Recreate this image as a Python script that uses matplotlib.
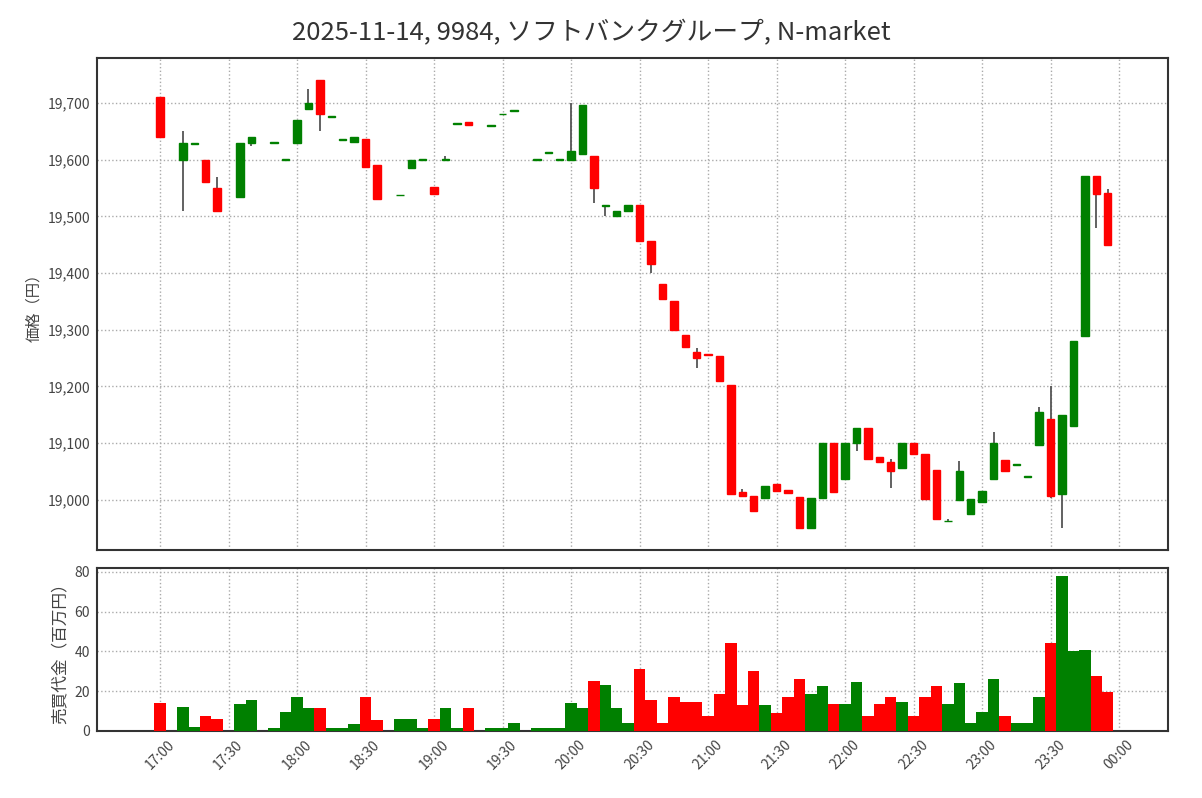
import pandas as pd
import numpy as np
import matplotlib
matplotlib.use("Agg")
import matplotlib.pyplot as plt
import matplotlib.dates as mdates
from matplotlib.ticker import FuncFormatter

plt.rcParams['font.family'] = ['Noto Sans CJK JP', 'DejaVu Sans']

# 5-minute bars, 2025-11-14 night session
times = ["17:00", "17:10", "17:15", "17:20", "17:25", "17:35", "17:40", "17:50", "17:55",
         "18:00", "18:05", "18:10", "18:15", "18:20", "18:25", "18:30", "18:35",
         "18:45", "18:50", "18:55", "19:00", "19:05", "19:10", "19:15",
         "19:25", "19:30", "19:35", "19:45", "19:50", "19:55",
         "20:00", "20:05", "20:10", "20:15", "20:20", "20:25", "20:30", "20:35", "20:40", "20:45", "20:50", "20:55",
         "21:00", "21:05", "21:10", "21:15", "21:20", "21:25", "21:30", "21:35", "21:40", "21:45", "21:50", "21:55",
         "22:00", "22:05", "22:10", "22:15", "22:20", "22:25", "22:30", "22:35", "22:40", "22:45", "22:50", "22:55",
         "23:00", "23:05", "23:10", "23:15", "23:20", "23:25", "23:30", "23:35", "23:40", "23:45", "23:50", "23:55"]

opens = [19710, 19600, 19628, 19600, 19550, 19535, 19630, 19630, 19600,
         19630, 19690, 19740, 19675, 19635, 19632, 19637, 19590,
         19537, 19585, 19600, 19552, 19600, 19663, 19666,
         19660, 19680, 19686, 19600, 19612, 19600,
         19600, 19610, 19606, 19519, 19500, 19510, 19520, 19456, 19380, 19350, 19290, 19260,
         19258, 19253, 19203, 19013, 19007, 19003, 19028, 19018, 19005, 18951, 19004, 19100,
         19037, 19101, 19126, 19076, 19066, 19057, 19100, 19081, 19053, 18962, 19000, 18975,
         18997, 19037, 19071, 19062, 19041, 19096, 19142, 19011, 19130, 19289, 19571, 19541]

closes = [19640, 19630, 19630, 19560, 19510, 19630, 19640, 19631, 19601,
          19670, 19700, 19680, 19676, 19636, 19640, 19587, 19530,
          19538, 19600, 19601, 19540, 19601, 19664, 19662,
          19661, 19681, 19688, 19601, 19613, 19601,
          19615, 19697, 19551, 19520, 19510, 19520, 19456, 19416, 19355, 19300, 19270, 19250,
          19255, 19210, 19011, 19007, 18981, 19024, 19016, 19012, 18951, 19003, 19100, 19014,
          19100, 19126, 19072, 19066, 19051, 19101, 19081, 19001, 18966, 18963, 19051, 19001,
          19015, 19101, 19051, 19063, 19042, 19155, 19006, 19150, 19281, 19571, 19540, 19449]

highs = [19710, 19650, 19630, 19600, 19570, 19630, 19640, 19631, 19601,
         19670, 19725, 19740, 19676, 19636, 19640, 19637, 19590,
         19538, 19600, 19601, 19552, 19607, 19664, 19666,
         19661, 19681, 19688, 19601, 19613, 19601,
         19700, 19697, 19606, 19520, 19510, 19520, 19520, 19456, 19380, 19350, 19290, 19268,
         19258, 19253, 19203, 19020, 19007, 19024, 19028, 19018, 19005, 19003, 19100, 19100,
         19100, 19126, 19126, 19076, 19072, 19101, 19100, 19081, 19053, 18967, 19069, 19001,
         19015, 19120, 19071, 19063, 19042, 19163, 19200, 19150, 19281, 19571, 19571, 19549]

lows = [19640, 19510, 19628, 19560, 19510, 19535, 19625, 19630, 19600,
        19630, 19690, 19650, 19675, 19635, 19632, 19587, 19530,
        19537, 19585, 19600, 19540, 19600, 19663, 19662,
        19660, 19680, 19686, 19600, 19612, 19600,
        19600, 19610, 19524, 19500, 19500, 19510, 19456, 19400, 19355, 19297, 19270, 19232,
        19255, 19210, 19011, 19007, 18981, 19003, 19016, 19012, 18951, 18951, 19004, 19014,
        19037, 19086, 19072, 19066, 19021, 19057, 19081, 19001, 18966, 18962, 19000, 18975,
        18997, 19037, 19051, 19062, 19041, 19096, 19003, 18951, 19130, 19289, 19480, 19449]

# trading value, million yen
values = [14, 12, 2, 7.5, 6, 13.6, 15.6, 1.7, 9.6,
          17.3, 11.6, 11.6, 1.7, 1.7, 3.7, 17.3, 5.7,
          5.8, 5.8, 1.7, 5.8, 11.7, 1.7, 11.7,
          1.7, 1.7, 3.8, 1.7, 1.7, 1.7,
          13.8, 11.7, 25.2, 23.3, 11.7, 3.8, 31.3, 15.5, 3.8, 17.2, 14.7, 14.7,
          7.7, 18.8, 44.2, 13, 30.2, 13, 9.2, 17.2, 26.3, 18.8, 22.8, 13.3,
          13.3, 24.7, 7.7, 13.3, 17.2, 14.7, 7.7, 17.2, 22.8, 13.3, 24.2, 3.8,
          9.3, 26.3, 7.7, 3.8, 3.8, 17.2, 44.2, 78, 40, 40.5, 27.5, 19.7]

df = pd.DataFrame({'open': opens, 'high': highs, 'low': lows, 'close': closes, 'value': values},
                  index=pd.to_datetime(["2025-11-14 " + t for t in times]))

x = mdates.date2num(df.index.to_pydatetime())
five_min = 5 / 1440
up = df['close'] >= df['open']
colors = np.where(up, '#008000', '#ff0000')

fig = plt.figure(figsize=(12.02, 7.98), dpi=100)
ax = fig.add_axes([0.0807, 0.3108, 0.891, 0.6165])
ax2 = fig.add_axes([0.0807, 0.0840, 0.891, 0.2043], sharex=ax)

# candles
ax.vlines(x, df['low'], df['high'], color='#555555', linewidth=1.3, zorder=2)
body_bottom = np.minimum(df['open'], df['close'])
body_height = np.maximum(np.abs(df['close'] - df['open']), 1.5)
ax.bar(x, body_height, bottom=body_bottom, width=five_min * 0.65,
       color=colors, edgecolor=colors, linewidth=1, zorder=3)

# trading value
ax2.bar(x, df['value'], width=five_min, color=colors, linewidth=0, zorder=3)

rng = df['high'].max() - df['low'].min()
ax.set_ylim(df['low'].min() - 0.05 * rng, df['high'].max() + 0.05 * rng)
ax2.set_ylim(0, df['value'].max() * 1.05)

start = mdates.date2num(pd.Timestamp("2025-11-14 17:00"))
ax.set_xlim(start - 27.6 / 1440, start + 441.4 / 1440)

ticks = pd.date_range("2025-11-14 17:00", "2025-11-15 00:00", freq="30min")
ax2.set_xticks(mdates.date2num(ticks.to_pydatetime()))
ax2.xaxis.set_major_formatter(mdates.DateFormatter('%H:%M'))
plt.setp(ax2.get_xticklabels(), rotation=45, ha='center')
ax.tick_params(axis='x', labelbottom=False)

ax.set_yticks(range(19000, 19701, 100))
ax.yaxis.set_major_formatter(FuncFormatter(lambda v, p: f"{int(v):,}"))
ax2.set_yticks([0, 20, 40, 60, 80])

for a in (ax, ax2):
    a.grid(True, linestyle=':', color='#aaaaaa', linewidth=1, zorder=0)
    a.set_axisbelow(True)
    a.tick_params(length=0, labelsize=10, colors='#444444', pad=5)
    for s in a.spines.values():
        s.set_linewidth(1.5)
        s.set_color('#333333')

ax.set_ylabel("価格（円）", fontsize=11, color='#444444')
ax2.set_ylabel("売買代金（百万円）", fontsize=12, color='#444444')
fig.align_ylabels([ax, ax2])

fig.suptitle("2025-11-14, 9984, ソフトバンクグループ, N-market", fontsize=18.5, y=0.9586, x=0.492,
             va='center', color='#333333')

fig.savefig("out.png", dpi=100)
